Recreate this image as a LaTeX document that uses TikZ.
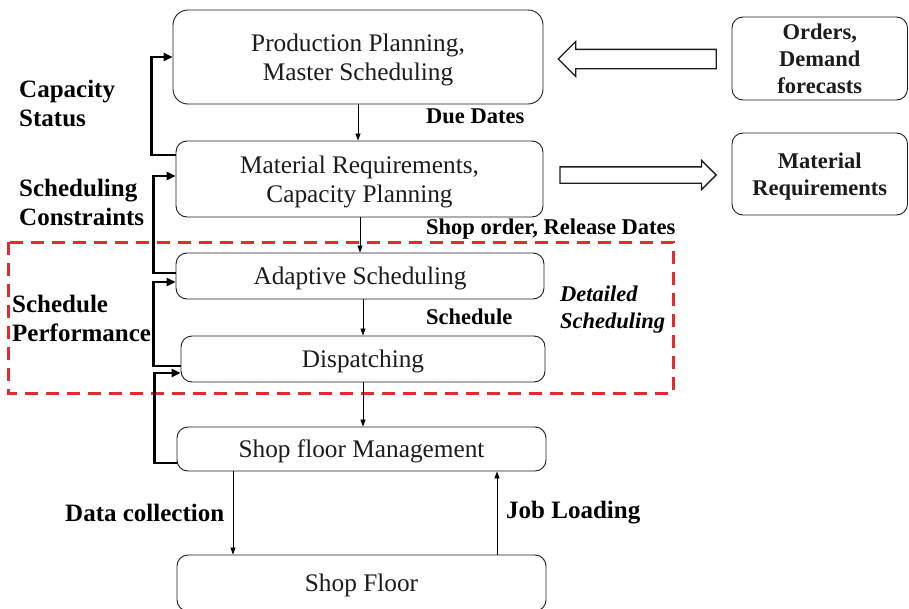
\documentclass[tikz,border=0pt]{standalone}
\usepackage{fontspec}
\setmainfont{Liberation Serif}
\usetikzlibrary{arrows.meta,shapes.arrows}
\definecolor{dashred}{RGB}{226,44,44}
\definecolor{ink}{RGB}{28,28,28}
\newcommand\bxfont{\fontsize{25.3}{29}\selectfont}
\newcommand\sidefont{\bfseries\fontsize{25}{29}\selectfont}
\newcommand\tagfont{\bfseries\fontsize{22.5}{27}\selectfont}

\begin{document}
\begin{tikzpicture}[x=1pt,y=-1pt,
  box/.style={draw=ink, line width=0.9pt, rounded corners=11pt, inner sep=0pt,
    align=center, text=ink, font=\bxfont, text depth=0pt},
  twoline/.style={text depth=-3pt},
  sidebox/.style={draw=ink, line width=0.9pt, rounded corners=11pt, inner sep=0pt,
    align=center, text=ink, font=\tagfont},
  feedback/.style={line width=2.6pt, line join=miter, -{Triangle[length=9pt,width=8pt]}},
  flow/.style={line width=0.8pt, -{Triangle[length=7pt,width=5pt]}},
  hollow/.style={single arrow, draw=ink, line width=1.3pt, fill=white,
    inner xsep=0pt, single arrow tip angle=90},
  sidelbl/.style={font=\sidefont, align=left, anchor=west, inner sep=0pt},
  taglbl/.style={font=\tagfont, align=left, anchor=west, inner sep=0pt},
]
\useasboundingbox (0,0) rectangle (909,608);

% main chain of planning levels
\node[box, twoline, rounded corners=15pt, minimum width=370, minimum height=94] (pp) at (358,57)
  {Production Planning,\\Master Scheduling};
\node[box, twoline, minimum width=367, minimum height=76] (mrp) at (359.5,179)
  {Material Requirements,\\Capacity Planning};
\node[box, minimum width=368, minimum height=46] (ada) at (360,276) {Adaptive Scheduling};
\node[box, minimum width=364, minimum height=46] (dis) at (363,359) {Dispatching};
\node[box, minimum width=369, minimum height=44] (sfm) at (361.5,449) {Shop floor Management};
\node[box, minimum width=369, minimum height=56] (shop) at (361.5,583) {Shop Floor};

% external inputs and outputs
\node[sidebox, minimum width=175.5, minimum height=83] (ord) at (819.75,58.5)
  {Orders,\\Demand\\forecasts};
\node[sidebox, text depth=-3pt, minimum width=175.5, minimum height=82] (mreq) at (819.75,174)
  {Material\\Requirements};

% block arrows between the planning boxes and the side boxes
\node[hollow, shape border rotate=180, minimum height=158, minimum width=34,
  inner ysep=9pt, single arrow head extend=8pt] (inarrow) at (642,59) {};
\node[hollow, minimum height=156, minimum width=28,
  inner ysep=7.5pt, single arrow head extend=6.5pt] (outarrow) at (634,175) {};

% detailed scheduling frame
\draw[dashred, line width=3pt, dash pattern=on 13pt off 8pt] (8,242) rectangle (673,393);

% downward information flow
\draw[flow] (pp.south) -- (pp.south |- mrp.north);
\draw[flow] (ada.north |- mrp.south) -- (ada.north);
\draw[flow] (dis.north |- ada.south) -- (dis.north);
\draw[flow] (dis.south) -- (dis.south |- sfm.north);
\coordinate (dcx) at (233,0);
\coordinate (jlx) at (497,0);
\draw[flow] (dcx |- sfm.south) -- (dcx |- shop.north);
\draw[flow] (jlx |- shop.north) -- (jlx |- sfm.south);

% feedback loops
\draw[feedback] ([yshift=24pt]mrp.west) -- ++(-24,0) |- (pp.west);
\draw[feedback] ([yshift=3pt]ada.west) -- ++(-22,0) |- ([yshift=3pt]mrp.west);
\draw[feedback] ([yshift=-7pt]dis.west) -- ++(-27,0) |- ([yshift=-6pt]ada.west);
\draw[feedback] ([yshift=-14pt]sfm.west) -- ++(-22,0) |- ([yshift=-14pt]dis.west);

% labels
\node[sidelbl] (capl) at (19,103.5) {Capacity\\Status};
\node[sidelbl] (scl) at (19,202.5) {Scheduling\\Constraints};
\node[sidelbl] (spl) at (12,318) {Schedule\\Performance};
\node[taglbl] (duel) at (426,116) {Due Dates};
\node[taglbl] (sorl) at (426,229) {Shop order, Release Dates};
\node[taglbl] (schl) at (426,317) {Schedule};
\node[taglbl, font=\tagfont\itshape] (detl) at (560,309.5) {Detailed\\Scheduling};
\node[sidelbl] (dcl) at (65,513) {Data collection};
\node[sidelbl] (jll) at (506,513) {Job Loading};
\end{tikzpicture}
\end{document}
